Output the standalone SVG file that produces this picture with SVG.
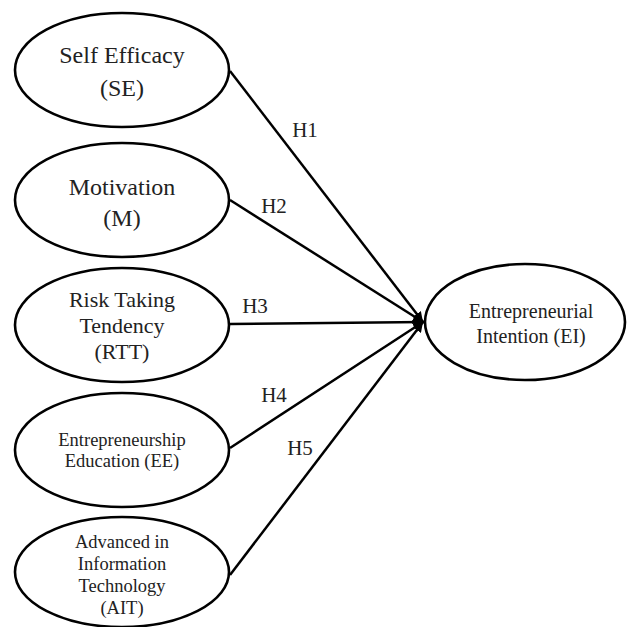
<svg xmlns="http://www.w3.org/2000/svg" width="627" height="627" viewBox="0 0 627 627">
<defs>
<style>
.node ellipse{fill:#fff;stroke:#000;stroke-width:2.6}
text{font-family:"Liberation Serif","Times New Roman",serif;fill:#222;text-anchor:middle}
.edge{stroke:#000;stroke-width:2.5;fill:none}
.lbl{font-size:21px}
</style>
<marker id="arr" viewBox="0 0 10 10" refX="10" refY="5" markerWidth="4" markerHeight="4" orient="auto" markerUnits="strokeWidth">
<path d="M0,0 L10,5 L0,10 z" fill="#000"/>
</marker>
</defs>
<rect width="627" height="627" fill="#fff"/>
<g id="connectors">
<line class="edge" x1="230" y1="71" x2="423" y2="322" marker-end="url(#arr)"/>
<line class="edge" x1="230" y1="200" x2="423" y2="322" marker-end="url(#arr)"/>
<line class="edge" x1="230" y1="324" x2="424" y2="322" marker-end="url(#arr)"/>
<line class="edge" x1="230" y1="448" x2="423" y2="322" marker-end="url(#arr)"/>
<line class="edge" x1="230" y1="575" x2="423" y2="322" marker-end="url(#arr)"/>
<text class="lbl" x="305" y="137">H1</text>
<text class="lbl" x="274" y="213">H2</text>
<text class="lbl" x="255" y="313">H3</text>
<text class="lbl" x="274" y="402">H4</text>
<text class="lbl" x="300" y="455">H5</text>
</g>
<g id="SE" class="node">
<ellipse cx="122" cy="70" rx="107" ry="57"/>
<text x="122" y="63" font-size="24">Self Efficacy</text>
<text x="122" y="96" font-size="24">(SE)</text>
</g>
<g id="M" class="node">
<ellipse cx="122" cy="200" rx="107" ry="57"/>
<text x="122" y="195" font-size="24">Motivation</text>
<text x="122" y="226" font-size="24">(M)</text>
</g>
<g id="RTT" class="node">
<ellipse cx="122" cy="325" rx="107" ry="57"/>
<text x="122" y="307" font-size="22">Risk Taking</text>
<text x="122" y="333" font-size="22">Tendency</text>
<text x="122" y="359" font-size="22">(RTT)</text>
</g>
<g id="EE" class="node">
<ellipse cx="122" cy="450" rx="107" ry="57"/>
<text x="122" y="446" font-size="18.5">Entrepreneurship</text>
<text x="122" y="467" font-size="18.5">Education (EE)</text>
</g>
<g id="AIT" class="node">
<ellipse cx="122" cy="572" rx="107" ry="55"/>
<text x="122" y="548" font-size="18.5">Advanced in</text>
<text x="122" y="570" font-size="18.5">Information</text>
<text x="122" y="592" font-size="18.5">Technology</text>
<text x="122" y="614" font-size="18.5">(AIT)</text>
</g>
<g id="EI" class="node">
<ellipse cx="525" cy="322" rx="100" ry="58"/>
<text x="531" y="318" font-size="20">Entrepreneurial</text>
<text x="531" y="343" font-size="20">Intention (EI)</text>
</g>
</svg>
